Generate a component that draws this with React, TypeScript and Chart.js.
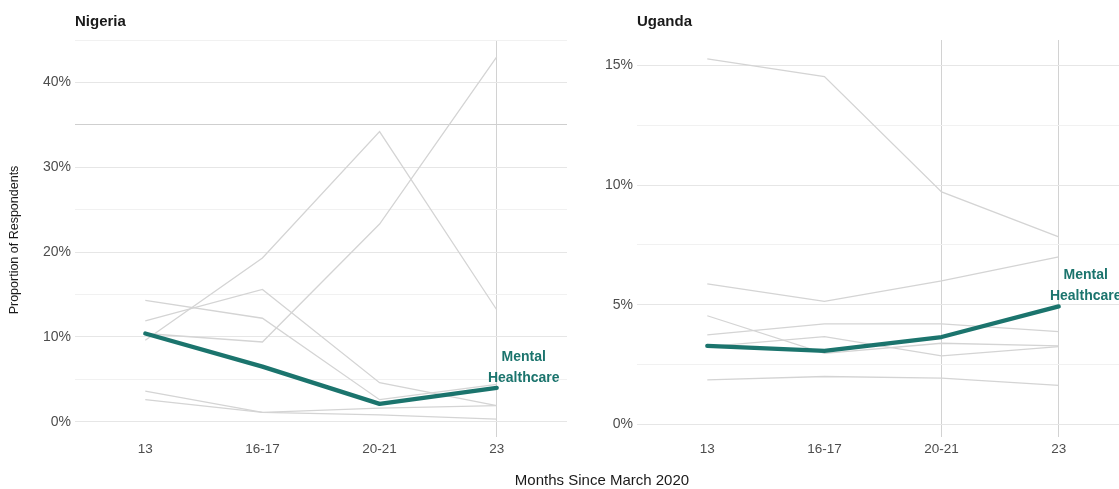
import React, { useEffect, useRef } from 'react';
import { Chart, registerables } from 'chart.js';

Chart.register(...registerables);

// ---------- data ----------
const categories = ['13', '16-17', '20-21', '23'];
const highlightLines = ['Mental', 'Healthcare'];

const nigeriaMental = [10.4, 6.5, 2.1, 4.0];
const nigeriaOtherA = [14.3, 12.2, 2.6, 4.4];
const nigeriaOtherB = [10.4, 9.4, 23.3, 43.0];
const nigeriaOtherC = [9.6, 19.3, 34.2, 13.2];
const nigeriaOtherD = [11.9, 15.6, 4.6, 1.9];
const nigeriaOtherE = [3.6, 1.1, 1.6, 1.9];
const nigeriaOtherF = [2.6, 1.1, 0.8, 0.3];

const ugandaMental = [3.28, 3.07, 3.65, 4.93];
const ugandaOtherA = [15.28, 14.54, 9.72, 7.84];
const ugandaOtherB = [5.87, 5.14, 6.0, 7.0];
const ugandaOtherC = [4.54, 2.97, 3.39, 3.28];
const ugandaOtherD = [3.74, 4.2, 4.2, 3.88];
const ugandaOtherE = [3.25, 3.67, 2.86, 3.25];
const ugandaOtherF = [1.86, 2.0, 1.93, 1.63];

const nigeriaTicks = [0, 5, 10, 15, 20, 25, 30, 35, 40, 45];
const nigeriaTickLabels = ['0%', '', '10%', '', '20%', '', '30%', '', '40%', ''];
const ugandaTicks = [0, 2.5, 5, 7.5, 10, 12.5, 15];
const ugandaTickLabels = ['0%', '', '5%', '', '10%', '', '15%'];

const FONT = '"Liberation Sans", Arial, Helvetica, sans-serif';
const TEAL = '#1b746d';
const GRAY_LINE = '#d4d4d4';

type PanelSpec = {
  title: string;
  mental: number[];
  others: number[][];
  ticks: number[];
  tickLabels: string[];
  yMin: number;
  yMax: number;
  yWidth: number;
  padding: { left: number; right: number; top: number; bottom: number };
  darkY: number[];
  darkX: number[];
  axisTitles: boolean;
};

function makeChart(canvas: HTMLCanvasElement, spec: PanelSpec) {
  const toPoints = (arr: number[]) => arr.map((v, i) => ({ x: i, y: v }));
  const datasets: any[] = [
    {
      label: highlightLines.join(' '),
      data: toPoints(spec.mental),
      borderColor: TEAL,
      backgroundColor: TEAL,
      borderWidth: 4.3,
      borderCapStyle: 'round',
      borderJoinStyle: 'round',
      pointRadius: 0,
      order: 0,
    },
    ...spec.others.map((arr, k) => ({
      label: 'other' + k,
      data: toPoints(arr),
      borderColor: GRAY_LINE,
      backgroundColor: GRAY_LINE,
      borderWidth: 1.3,
      pointRadius: 0,
      order: 1,
    })),
  ];

  const textPlugin = {
    id: 'textPlugin' + spec.title,
    afterDraw(chart: any) {
      const c = chart.ctx;
      const area = chart.chartArea;
      const xs = chart.scales.x;
      const ys = chart.scales.y;
      c.save();
      // panel title
      c.fillStyle = '#1a1a1a';
      c.font = `bold 15px ${FONT}`;
      c.textAlign = 'left';
      c.textBaseline = 'middle';
      c.fillText(spec.title, area.left, 22);
      // highlight label
      const last = spec.mental.length - 1;
      const px = xs.getPixelForValue(last) + 27;
      const py = ys.getPixelForValue(spec.mental[last]);
      c.fillStyle = TEAL;
      c.font = `bold 14px ${FONT}`;
      c.textAlign = 'center';
      c.fillText(highlightLines[0], px, py - 31);
      c.fillText(highlightLines[1], px, py - 10);
      if (spec.axisTitles) {
        c.fillStyle = '#1a1a1a';
        c.font = `15px ${FONT}`;
        c.textAlign = 'center';
        c.fillText('Months Since March 2020', 602, 481);
        c.save();
        c.translate(15, 240);
        c.rotate(-Math.PI / 2);
        c.font = `12.5px ${FONT}`;
        c.fillText('Proportion of Respondents', 0, 0);
        c.restore();
      }
      c.restore();
    },
  };

  return new Chart(canvas, {
    type: 'line',
    data: { datasets },
    plugins: [textPlugin],
    options: {
      animation: false,
      responsive: false,
      maintainAspectRatio: false,
      layout: { padding: spec.padding },
      plugins: {
        legend: { display: false },
        tooltip: { enabled: false },
        title: { display: false },
      },
      scales: {
        x: {
          type: 'linear',
          min: -0.6,
          max: 3.6,
          afterBuildTicks: (axis: any) => {
            axis.ticks = categories.map((_, i) => ({ value: i }));
          },
          afterFit: (scale: any) => {
            scale.height = 30;
          },
          ticks: {
            autoSkip: false,
            maxRotation: 0,
            padding: 4,
            color: '#4d4d4d',
            font: { family: FONT, size: 13.5 },
            callback: (v: any) => categories[Math.round(Number(v))] ?? '',
          },
          grid: {
            drawTicks: false,
            lineWidth: 1,
            color: (ctx: any) =>
              ctx.tick && spec.darkX.includes(ctx.tick.value) ? '#d2d2d2' : 'rgba(0,0,0,0)',
          },
          border: { display: false },
        },
        y: {
          type: 'linear',
          min: spec.yMin,
          max: spec.yMax,
          afterBuildTicks: (axis: any) => {
            axis.ticks = spec.ticks.map((v) => ({ value: v }));
          },
          afterFit: (scale: any) => {
            scale.width = spec.yWidth;
          },
          ticks: {
            autoSkip: false,
            padding: 4,
            color: '#4d4d4d',
            font: { family: FONT, size: 14 },
            callback: (v: any) => {
              const idx = spec.ticks.indexOf(Number(v));
              return idx >= 0 ? spec.tickLabels[idx] : '';
            },
          },
          grid: {
            drawTicks: false,
            lineWidth: 1,
            color: (ctx: any) => {
              const v = ctx.tick ? ctx.tick.value : null;
              if (v === null) return 'rgba(0,0,0,0)';
              if (spec.darkY.includes(v)) return '#cfcfcf';
              const idx = spec.ticks.indexOf(v);
              return spec.tickLabels[idx] ? '#e6e6e6' : '#f1f1f1';
            },
          },
          border: { display: false },
        },
      },
    },
  } as any);
}

const CANVAS_W = 1135;
const CANVAS_H = 489;

export default function App() {
  const nRef = useRef<HTMLCanvasElement | null>(null);
  const uRef = useRef<HTMLCanvasElement | null>(null);

  useEffect(() => {
    if (!nRef.current || !uRef.current) return;
    const n = makeChart(nRef.current, {
      title: 'Nigeria',
      mental: nigeriaMental,
      others: [nigeriaOtherA, nigeriaOtherB, nigeriaOtherC, nigeriaOtherD, nigeriaOtherE, nigeriaOtherF],
      ticks: nigeriaTicks,
      tickLabels: nigeriaTickLabels,
      yMin: -1.8,
      yMax: 45,
      yWidth: 75,
      padding: { left: 0, right: CANVAS_W - 567, top: 40, bottom: 22 },
      darkY: [35],
      darkX: [3],
      axisTitles: true,
    });
    const u = makeChart(uRef.current, {
      title: 'Uganda',
      mental: ugandaMental,
      others: [ugandaOtherA, ugandaOtherB, ugandaOtherC, ugandaOtherD, ugandaOtherE, ugandaOtherF],
      ticks: ugandaTicks,
      tickLabels: ugandaTickLabels,
      yMin: -0.53,
      yMax: 16.07,
      yWidth: 60,
      padding: { left: 637 - 60, right: 6, top: 40, bottom: 22 },
      darkY: [],
      darkX: [2, 3],
      axisTitles: false,
    });
    return () => {
      n.destroy();
      u.destroy();
    };
  }, []);

  const canvasStyle: React.CSSProperties = {
    position: 'absolute',
    left: 0,
    top: 0,
    width: CANVAS_W,
    height: CANVAS_H,
  };

  return (
    <div
      style={{
        position: 'absolute',
        left: 0,
        top: 0,
        width: 1119,
        height: 489,
        overflow: 'hidden',
        background: '#ffffff',
      }}
    >
      <canvas ref={nRef} width={CANVAS_W} height={CANVAS_H} style={canvasStyle} />
      <canvas ref={uRef} width={CANVAS_W} height={CANVAS_H} style={canvasStyle} />
    </div>
  );
}
